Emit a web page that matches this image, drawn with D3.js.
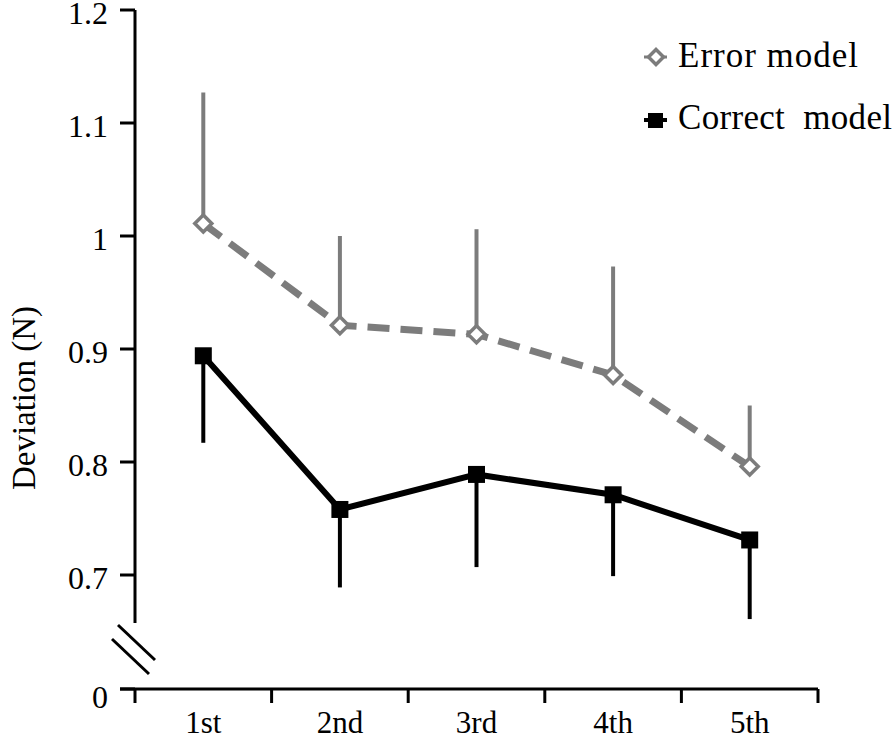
<!DOCTYPE html>
<html><head><meta charset="utf-8">
<script src="https://cdn.jsdelivr.net/npm/d3@7"></script>
</head><body style="margin:0">
<script>
const categories = ["1st","2nd","3rd","4th","5th"];
const errorMean = [1.011, 0.921, 0.913, 0.877, 0.796];
const errorUpper = [1.127, 1.000, 1.006, 0.973, 0.850];
const correctMean = [0.894, 0.758, 0.789, 0.771, 0.731];
const correctLower = [0.817, 0.689, 0.707, 0.699, 0.661];
const yTicks = [0.7, 0.8, 0.9, 1, 1.1, 1.2];
const zeroTick = 0;
const seriesNames = ["Error model", "Correct  model"];

const W = 896, H = 746;
const FF = "Liberation Serif";
const svg = d3.select("body").append("svg").attr("width", W).attr("height", H)
  .style("display", "block").style("font-family", FF);

const axisX = 135, baseY = 689;
const x = d3.scaleBand().domain(categories).range([axisX, 818]).paddingInner(0).paddingOuter(0);
const y = d3.scaleLinear().domain([0.7, 1.2]).range([575, 10]);
const cx = d => x(d) + x.bandwidth() / 2;

svg.append("line").attr("x1", axisX).attr("x2", axisX).attr("y1", y(1.2)).attr("y2", 623)
  .attr("stroke", "#000").attr("stroke-width", 3);
[[118,625,155,660],[112,639,149,674]].forEach(b => {
  svg.append("line").attr("x1", b[0]).attr("y1", b[1]).attr("x2", b[2]).attr("y2", b[3])
    .attr("stroke", "#000").attr("stroke-width", 3);
});
const yt = svg.append("g");
const tickPos = yTicks.map(t => [t, y(t)]).concat([[zeroTick, baseY]]);
tickPos.forEach(([t, py]) => {
  yt.append("line").attr("x1", 120).attr("x2", axisX).attr("y1", py).attr("y2", py)
    .attr("stroke", "#000").attr("stroke-width", 3);
  yt.append("text").attr("x", 108).attr("y", py + (t === 0 ? 19 : 14)).attr("text-anchor", "end")
    .style("font-family", FF).attr("font-size", 32).text(t);
});
svg.append("line").attr("x1", 120).attr("x2", 818).attr("y1", baseY).attr("y2", baseY)
  .attr("stroke", "#000").attr("stroke-width", 3);
const tickXs = categories.map(c => x(c)).concat([x(categories[categories.length-1]) + x.bandwidth()]);
tickXs.forEach(tx => {
  svg.append("line").attr("x1", tx).attr("x2", tx).attr("y1", baseY).attr("y2", baseY + 14)
    .attr("stroke", "#000").attr("stroke-width", 3);
});
categories.forEach(c => {
  svg.append("text").attr("x", cx(c)).attr("y", 733).attr("text-anchor", "middle")
    .style("font-family", FF).attr("font-size", 31).text(c);
});
svg.append("text").attr("transform", `translate(35,398) rotate(-90)`).attr("text-anchor", "middle")
  .style("font-family", FF).attr("font-size", 33).text("Deviation (N)");

const gray = "#7c7c7c";
categories.forEach((c, i) => {
  svg.append("line").attr("x1", cx(c)).attr("x2", cx(c)).attr("y1", y(errorMean[i])).attr("y2", y(errorUpper[i]))
    .attr("stroke", gray).attr("stroke-width", 4);
});
const line = d3.line().x((d, i) => cx(categories[i])).y(d => y(d));
svg.append("path").datum(errorMean).attr("d", line).attr("fill", "none")
  .attr("stroke", gray).attr("stroke-width", 7).attr("stroke-dasharray", "22,11");
const diamond = (px, py, s) => `M${px},${py-s}L${px+s},${py}L${px},${py+s}L${px-s},${py}Z`;
categories.forEach((c, i) => {
  svg.append("path").attr("d", diamond(cx(c), y(errorMean[i]), 8.5)).attr("fill", "#fff")
    .attr("stroke", gray).attr("stroke-width", 3.5);
});
categories.forEach((c, i) => {
  svg.append("line").attr("x1", cx(c)).attr("x2", cx(c)).attr("y1", y(correctMean[i])).attr("y2", y(correctLower[i]))
    .attr("stroke", "#000").attr("stroke-width", 4);
});
svg.append("path").datum(correctMean).attr("d", line).attr("fill", "none")
  .attr("stroke", "#000").attr("stroke-width", 6);
categories.forEach((c, i) => {
  svg.append("rect").attr("x", cx(c) - 8.5).attr("y", y(correctMean[i]) - 8.5).attr("width", 17).attr("height", 17)
    .attr("fill", "#000");
});

svg.append("line").attr("x1", 644).attr("x2", 667).attr("y1", 57).attr("y2", 57).attr("stroke", gray).attr("stroke-width", 3);
svg.append("path").attr("d", diamond(656, 57, 7.5)).attr("fill", "#fff").attr("stroke", gray).attr("stroke-width", 3.5);
svg.append("text").attr("x", 678).attr("y", 67).style("font-family", FF).attr("font-size", 35)
  .attr("textLength", 180).attr("lengthAdjust", "spacing").text(seriesNames[0]);
svg.append("line").attr("x1", 644).attr("x2", 667).attr("y1", 120).attr("y2", 120).attr("stroke", "#000").attr("stroke-width", 4);
svg.append("rect").attr("x", 648).attr("y", 113).attr("width", 15).attr("height", 15).attr("fill", "#000");
svg.append("text").attr("x", 678).attr("y", 129).style("font-family", FF).attr("font-size", 35)
  .attr("textLength", 214).attr("lengthAdjust", "spacing").attr("xml:space", "preserve").text(seriesNames[1]);
</script>
</body></html>
